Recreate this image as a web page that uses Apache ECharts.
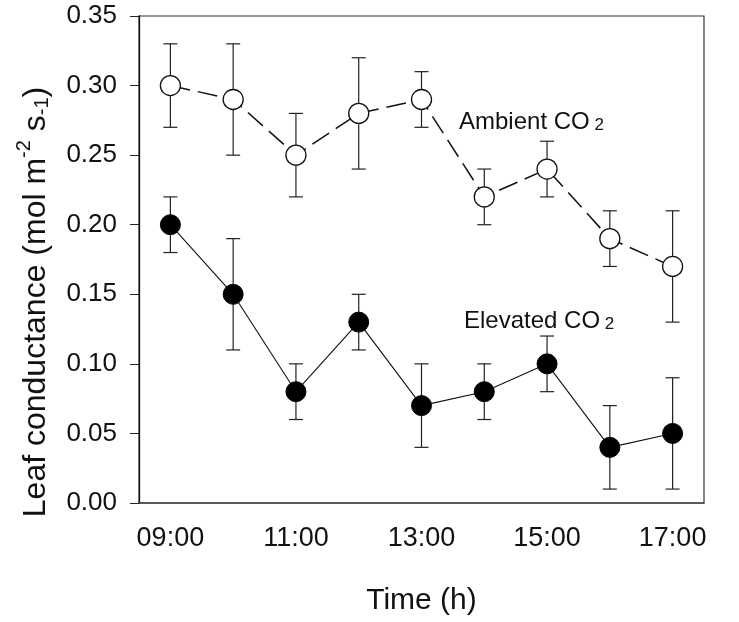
<!DOCTYPE html>
<html>
<head>
<meta charset="utf-8">
<script src="https://cdn.jsdelivr.net/npm/echarts@6/dist/echarts.min.js"></script>
<style>html,body{margin:0;padding:0;background:#fff;}#c{width:739px;height:622px;}</style>
</head>
<body>
<div id="c"></div>
<script>
var times = ['09:00','10:00','11:00','12:00','13:00','14:00','15:00','16:00','17:00'];
var ambientMean = [0.30,0.29,0.25,0.28,0.29,0.22,0.24,0.19,0.17];
var ambientLow  = [0.27,0.25,0.22,0.24,0.27,0.20,0.22,0.17,0.13];
var ambientHigh = [0.33,0.33,0.28,0.32,0.31,0.24,0.26,0.21,0.21];
var elevatedMean = [0.20,0.15,0.08,0.13,0.07,0.08,0.10,0.04,0.05];
var elevatedLow  = [0.18,0.11,0.06,0.11,0.04,0.06,0.08,0.01,0.01];
var elevatedHigh = [0.22,0.19,0.10,0.15,0.10,0.10,0.12,0.07,0.09];

var FONT = "'Liberation Sans', Arial, sans-serif";

function errData(low, high){
  return times.map(function(t,i){ return [i, low[i], high[i]]; });
}
function renderErr(params, api){
  var i = api.value(0);
  var lo = api.coord([i, api.value(1)]);
  var hi = api.coord([i, api.value(2)]);
  var hw = 7;
  var st = {stroke:'#222', lineWidth:1.2};
  return {type:'group', children:[
    {type:'line', shape:{x1:lo[0],y1:lo[1],x2:hi[0],y2:hi[1]}, style:st},
    {type:'line', shape:{x1:lo[0]-hw,y1:lo[1],x2:lo[0]+hw,y2:lo[1]}, style:st},
    {type:'line', shape:{x1:hi[0]-hw,y1:hi[1],x2:hi[0]+hw,y2:hi[1]}, style:st}
  ]};
}

var chart = echarts.init(document.getElementById('c'));
chart.setOption({
  animation:false,
  backgroundColor:'#fff',
  grid:{left:139, right:35, top:16, bottom:119, show:true, borderColor:'#333', borderWidth:1.2, backgroundColor:'transparent'},
  xAxis:[{
    type:'category', data:times, boundaryGap:true,
    axisLine:{lineStyle:{color:'#444', width:1.5}},
    axisTick:{alignWithLabel:true, interval:1, length:8, lineStyle:{color:'#333'}},
    axisLabel:{interval:1, margin:22, fontSize:27, color:'#111', fontFamily:FONT},
    name:'Time (h)', nameLocation:'middle', nameGap:83,
    nameTextStyle:{fontSize:30, color:'#111', fontFamily:FONT}
  },{
    type:'category', data:times, boundaryGap:true, position:'bottom',
    axisLine:{show:false},
    axisTick:{alignWithLabel:true, interval:0, length:4, lineStyle:{color:'#333'}},
    axisLabel:{show:false}
  }],
  yAxis:{
    type:'value', min:0, max:0.35, interval:0.05,
    axisLine:{show:true, lineStyle:{color:'#111', width:1.3}},
    axisTick:{show:true, length:9, lineStyle:{color:'#222'}},
    splitLine:{show:false},
    axisLabel:{margin:22, fontSize:26, color:'#111', fontFamily:FONT,
      formatter:function(v){ return v.toFixed(2); }}
  },
  graphic:[
    {type:'text', x:33, y:302, rotation:Math.PI/2, style:{
      text:'{a|Leaf conductance (mol m}{sup|-2}{a| s}{sm|-1}{a|)}',
      align:'center', verticalAlign:'middle', fontFamily:FONT,
      rich:{
        a:{fontSize:32, fontFamily:FONT, fill:'#111', verticalAlign:'bottom', lineHeight:38},
        sup:{fontSize:20, fontFamily:FONT, fill:'#111', verticalAlign:'top', lineHeight:38},
        sm:{fontSize:20, fontFamily:FONT, fill:'#111', verticalAlign:'bottom', lineHeight:37}
      }}},
    {type:'text', left:459, top:110, style:{
      text:'{a|Ambient CO}{s| 2}', fontFamily:FONT,
      rich:{a:{fontSize:24, fontFamily:FONT, fill:'#111', verticalAlign:'bottom', lineHeight:28},
            s:{fontSize:17, fontFamily:FONT, fill:'#111', verticalAlign:'bottom', lineHeight:24}}}},
    {type:'text', left:464, top:309, style:{
      text:'{a|Elevated CO}{s| 2}', fontFamily:FONT,
      rich:{a:{fontSize:24, fontFamily:FONT, fill:'#111', verticalAlign:'bottom', lineHeight:28},
            s:{fontSize:17, fontFamily:FONT, fill:'#111', verticalAlign:'bottom', lineHeight:24}}}}
  ],
  series:[
    {type:'custom', name:'ambErr', renderItem:renderErr, data:errData(ambientLow, ambientHigh), z:1},
    {type:'custom', name:'elevErr', renderItem:renderErr, data:errData(elevatedLow, elevatedHigh), z:1},
    {type:'line', name:'Ambient CO2', data:ambientMean, symbol:'circle', symbolSize:20, z:3,
      itemStyle:{color:'#fff', borderColor:'#111', borderWidth:1.3},
      lineStyle:{color:'#111', width:1.5, type:[20,8]}},
    {type:'line', name:'Elevated CO2', data:elevatedMean, symbol:'circle', symbolSize:20, z:3,
      itemStyle:{color:'#000', borderColor:'#000', borderWidth:1},
      lineStyle:{color:'#111', width:1.1}}
  ]
});
</script>
</body>
</html>
